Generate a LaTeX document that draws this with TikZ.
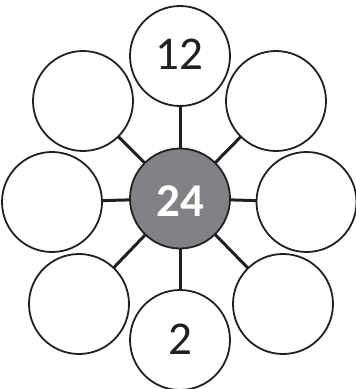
\documentclass[tikz,border=0pt]{standalone}
\usepackage{fontspec}
\setmainfont{Carlito}
\definecolor{hubgray}{RGB}{128,130,134}
\definecolor{ink}{RGB}{35,31,32}
\begin{document}
\begin{tikzpicture}[x=1pt,y=-1pt,
  petal/.style={circle,draw=ink,line width=1.8pt,fill=white,minimum size=100pt,inner sep=0pt},
  hub/.style={circle,draw=ink,line width=1.8pt,fill=hubgray,minimum size=100pt,inner sep=0pt},
  spoke/.style={draw=ink,line width=3pt},
  num/.style={font=\fontsize{47}{47}\selectfont,text=ink,inner sep=0pt},
  hubnum/.style={font=\fontsize{47}{47}\selectfont\bfseries,text=white,inner sep=0pt}]
\useasboundingbox (0,0) rectangle (356,389);
\coordinate (c) at (180,198.5);
\coordinate (t) at (180,56);
\coordinate (tl) at (83,101);
\coordinate (tr) at (276,101);
\coordinate (l) at (52,202);
\coordinate (r) at (306.5,202);
\coordinate (bl) at (79,304);
\coordinate (br) at (283,304);
\coordinate (b) at (180,340);
\foreach \p in {t,tl,tr,l,r,bl,br,b} \draw[spoke] (c) -- (\p);
\node[hub] (C) at (c) {};
\node[petal] (T) at (t) {};
\node[petal] (TL) at (tl) {};
\node[petal] (TR) at (tr) {};
\node[petal] (L) at (l) {};
\node[petal] (R) at (r) {};
\node[petal] (BL) at (bl) {};
\node[petal] (BR) at (br) {};
\node[petal] (B) at (b) {};
\node[hubnum] (n24) at (180,201) {24};
\node[num] (n12) at (179,54) {12};
\node[num] (n2) at (180,339.5) {2};
\end{tikzpicture}
\end{document}
